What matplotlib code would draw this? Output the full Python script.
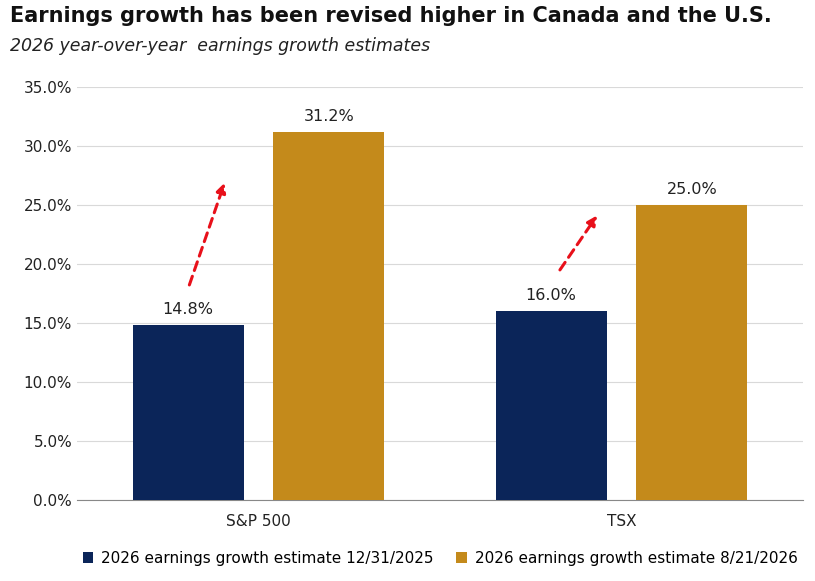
import matplotlib
matplotlib.use("Agg")
import matplotlib.pyplot as plt
import numpy as np

categories = ["S&P 500", "TSX"]
series_names = ["2026 earnings growth estimate 12/31/2025", "2026 earnings growth estimate 8/21/2026"]
est_dec = [14.8, 16.0]
est_aug = [31.2, 25.0]
# arrows: (start_x_offset, start_y, end_x_offset, end_y) per category
arrows = [(-0.193, 18.0, -0.091, 27.1), (-0.174, 19.3, -0.063, 24.3)]

fig = plt.figure(figsize=(8.15, 5.81), dpi=100)
ax = fig.add_axes([0.0945, 0.1394, 0.8908, 0.711])
x = np.arange(len(categories))
w = 0.306
off = 0.194
navy, gold = "#0B2559", "#C48A1B"
b1 = ax.bar(x - off, est_dec, w, color=navy, label=series_names[0], zorder=3)
b2 = ax.bar(x + off, est_aug, w, color=gold, label=series_names[1], zorder=3)
for bars, vals in ((b1, est_dec), (b2, est_aug)):
    for b, v in zip(bars, vals):
        ax.text(b.get_x() + b.get_width()/2, v + 0.7, f"{v:.1f}%", ha="center", va="bottom",
                fontsize=11.5, color="#222222")
for i, (sx, sy, ex, ey) in enumerate(arrows):
    ax.annotate("", xy=(i + ex, ey), xytext=(i + sx, sy),
                arrowprops=dict(arrowstyle="-|>", color="#E8101A", lw=2.2, ls=(0, (3, 2)),
                                mutation_scale=14), zorder=4)
ax.set_xlim(-0.5, 1.5)
ax.set_ylim(0, 35)
ax.set_yticks(np.arange(0, 36, 5))
ax.set_yticklabels([f"{t:.1f}%" for t in np.arange(0, 36, 5)], fontsize=11, color="#222222")
ax.set_xticks(x)
ax.set_xticklabels(categories, fontsize=11, color="#222222")
ax.tick_params(length=0)
ax.tick_params(axis="x", pad=10)
ax.grid(axis="y", color="#D9D9D9", lw=0.8, zorder=0)
for s in ("top", "right", "left"):
    ax.spines[s].set_visible(False)
ax.spines["bottom"].set_color("#888888")
ax.legend(loc="upper center", bbox_to_anchor=(0.5, -0.09), ncol=2, frameon=False,
          fontsize=11, handlelength=0.7, handleheight=0.7, columnspacing=1.5, handletextpad=0.5)
fig.text(0.012, 0.962, "Earnings growth has been revised higher in Canada and the U.S.",
         fontsize=15, fontweight="bold", family=["Liberation Sans Narrow", "DejaVu Sans"], color="#111111")
fig.text(0.012, 0.913, "2026 year-over-year  earnings growth estimates", fontsize=12.5,
         style="italic", color="#222222")
fig.savefig("out.png", dpi=100)
